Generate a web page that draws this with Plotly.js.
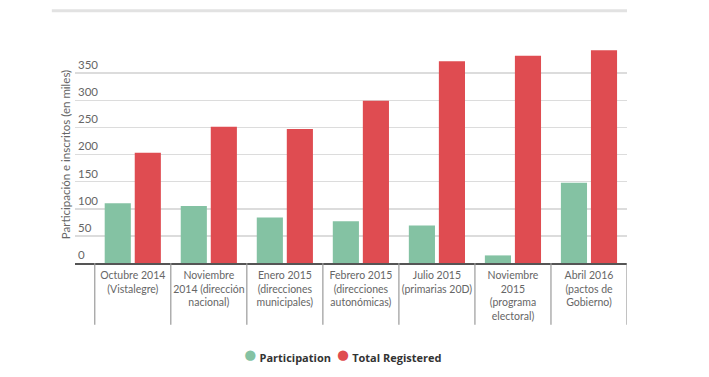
<!DOCTYPE html>
<html>
<head>
<meta charset="utf-8">
<script src="https://cdn.plot.ly/plotly-3.0.1.min.js"></script>
<style>html,body{margin:0;padding:0;background:#fff}#chart{width:709px;height:377px}</style>
</head>
<body>
<div id="chart"></div>
<script>
const categories = [
  "Octubre 2014<br>(Vistalegre)",
  "Noviembre<br>2014 (dirección<br>nacional)",
  "Enero 2015<br>(direcciones<br>municipales)",
  "Febrero 2015<br>(direcciones<br>autonómicas)",
  "Julio 2015<br>(primarias 20D)",
  "Noviembre<br>2015<br>(programa<br>electoral)",
  "Abril 2016<br>(pactos de<br>Gobierno)"
];
const participation = [110, 105, 84, 77, 69, 14, 148];
const totalRegistered = [203, 251, 247, 299, 372, 382, 392];
const yTickVals = [0, 50, 100, 150, 200, 250, 300, 350];
const seriesNames = ["Participation", "Total Registered"];

const green = "#84c2a3";
const red = "#df4c51";

const traces = [
  {type: "bar", x: categories, y: participation, name: seriesNames[0], marker: {color: green}, hoverinfo: "y"},
  {type: "bar", x: categories, y: totalRegistered, name: seriesNames[1], marker: {color: red}, hoverinfo: "y"}
];

const shapes = [];
for (let i = 0; i <= categories.length; i++) {
  shapes.push({type: "line", xref: "x", yref: "paper", x0: i - 0.5, x1: i - 0.5, y0: 0, y1: -0.285,
    line: {color: "#9a9a9a", width: 1.2}});
}
shapes.push({type: "line", xref: "paper", yref: "paper", x0: -0.042, x1: 1, y0: 1.163, y1: 1.163,
  line: {color: "#e2e2e2", width: 3}});

const legendText =
  "<span style='color:" + green + ";font-size:21px'>●</span> <b>" + seriesNames[0] + "</b>  " +
  "<span style='color:" + red + ";font-size:21px'>●</span> <b>" + seriesNames[1] + "</b>";

const layout = {
  width: 709, height: 377,
  margin: {l: 75, r: 82, t: 46, b: 114},
  paper_bgcolor: "#fff", plot_bgcolor: "#fff",
  font: {family: "Lato, 'Open Sans', sans-serif", color: "#666", size: 10.5},
  barmode: "group", bargap: 0.21, bargroupgap: 0.13,
  showlegend: false,
  annotations: [{xref: "paper", yref: "paper", x: 0.485, y: -0.42, xanchor: "center", yanchor: "middle",
    showarrow: false, text: legendText, font: {size: 11, color: "#333", family: "'Open Sans', Lato, sans-serif"}}],
  xaxis: {type: "category", range: [-0.76, 6.5], showgrid: false, ticks: "", showline: true,
    linecolor: "#555", linewidth: 1.5, tickfont: {size: 10.5, color: "#666"}, fixedrange: true, ticklabelstandoff: 2},
  yaxis: {range: [0, 400], tickvals: yTickVals, ticktext: yTickVals.map(String), ticklabelposition: "inside top",
    showgrid: true, gridcolor: "#dcdcdc", gridwidth: 1.5, zeroline: false, showline: false, ticks: "",
    tickfont: {size: 11.5, color: "#666"},
    title: {text: "Participación e inscritos (en miles)", font: {size: 11.5, color: "#666"}, standoff: 4}},
  shapes: shapes
};

Plotly.newPlot("chart", traces, layout, {displayModeBar: false, staticPlot: true});
</script>
</body>
</html>
